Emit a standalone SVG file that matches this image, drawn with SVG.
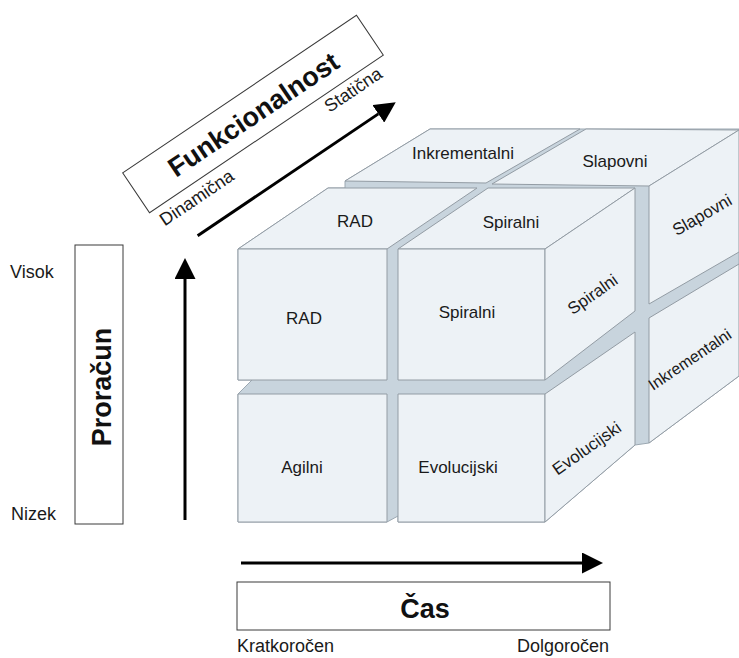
<svg xmlns="http://www.w3.org/2000/svg" width="739" height="658" viewBox="0 0 739 658">
  <defs>
    <style>
      .face{fill:#edf2f6;stroke:#939ca4;stroke-width:1;stroke-linejoin:round}
      .gap{fill:#c8d4dd;stroke:#9ca8b2;stroke-width:1;stroke-linejoin:round}
      .lbl{font-family:"Liberation Sans",Arial,sans-serif;font-size:17px;fill:#1a1a1a}
      .ax{font-family:"Liberation Sans",Arial,sans-serif;font-size:18px;fill:#1a1a1a}
      .title{font-family:"Liberation Sans",Arial,sans-serif;font-size:27px;font-weight:bold;fill:#111}
      .box{fill:#fff;stroke:#3a3a3a;stroke-width:1}
      .arrow{stroke:#000;stroke-width:3;fill:none}
    </style>
    <marker id="head" markerUnits="userSpaceOnUse" markerWidth="21" markerHeight="21" viewBox="0 0 21 21" refX="0" refY="10.5" orient="auto">
      <path d="M0,0 L21,10.5 L0,21 z" fill="#000"/>
    </marker>
  </defs>

  <rect width="739" height="658" fill="#fff"/>

  <!-- shaded gaps between the blocks: one silhouette behind all faces -->
  <g id="cube-gaps">
    <polygon class="gap" points="238,249 328,188 345,188 345,181 430,129 739,129 739,376 649,443 635,445 545,522 398,522 398,516 387,522 238,522 238,394 252,380 238,380"/>
  </g>

  <!-- back layer -->
  <g id="node-inkrementalni-top">
    <polygon class="face" points="345,181 486,183 580,129 430,129"/>
    <text class="lbl" x="463" y="159" text-anchor="middle">Inkrementalni</text>
  </g>
  <g id="node-slapovni">
    <polygon class="face" points="492,184 649,186 739,130 586,129"/>
    <polygon class="face" points="649,186 739,130 739,252 649,304"/>
    <text class="lbl" x="615" y="167" text-anchor="middle">Slapovni</text>
    <text class="lbl" x="705" y="220" text-anchor="middle" transform="rotate(-30 705 220)">Slapovni</text>
  </g>
  <g id="node-inkrementalni-side">
    <polygon class="face" points="649,318 739,264 739,376 649,443"/>
    <text class="lbl" x="653" y="391" style="font-size:16px" transform="rotate(-34 653 391)">Inkrementalni</text>
  </g>

  <!-- front layer -->
  <g id="node-rad">
    <polygon class="face" points="238,249 387,249 477,188 328,188"/>
    <polygon class="face" points="238,249 387,249 387,380 238,380"/>
    <text class="lbl" x="355" y="227" text-anchor="middle">RAD</text>
    <text class="lbl" x="304" y="324" text-anchor="middle">RAD</text>
  </g>
  <g id="node-spiralni">
    <polygon class="face" points="398,249 545,249 635,188 488,188"/>
    <polygon class="face" points="398,249 545,249 545,380 398,380"/>
    <polygon class="face" points="545,249 635,188 635,311 545,380"/>
    <text class="lbl" x="511" y="228" text-anchor="middle">Spiralni</text>
    <text class="lbl" x="467" y="318" text-anchor="middle">Spiralni</text>
    <text class="lbl" x="596" y="299" text-anchor="middle" transform="rotate(-35 596 299)">Spiralni</text>
  </g>
  <g id="node-agilni">
    <polygon class="face" points="238,394 387,394 387,522 238,522"/>
    <text class="lbl" x="302" y="473" text-anchor="middle">Agilni</text>
  </g>
  <g id="node-evolucijski">
    <polygon class="face" points="398,394 545,394 545,522 398,522"/>
    <polygon class="face" points="545,394 635,332 635,445 545,522"/>
    <text class="lbl" x="458" y="473" text-anchor="middle">Evolucijski</text>
    <text class="lbl" x="590" y="453" text-anchor="middle" transform="rotate(-35 590 453)">Evolucijski</text>
  </g>

  <!-- axis captions -->
  <g id="axis-budget">
    <rect class="box" x="75" y="245" width="48" height="279"/>
    <text class="title" x="111" y="387" text-anchor="middle" transform="rotate(-90 111 387)">Proračun</text>
    <text class="ax" x="10" y="278">Visok</text>
    <text class="ax" x="11" y="520">Nizek</text>
  </g>
  <g id="axis-time">
    <rect class="box" x="237" y="582" width="373" height="48"/>
    <text class="title" x="425" y="618" text-anchor="middle">Čas</text>
    <text class="ax" x="237" y="652">Kratkoročen</text>
    <text class="ax" x="609" y="652" text-anchor="end">Dolgoročen</text>
  </g>
  <g id="axis-function" transform="translate(253 114) rotate(-34)">
    <rect class="box" x="-141" y="-24" width="282" height="48"/>
    <text class="title" x="0" y="10" text-anchor="middle">Funkcionalnost</text>
    <text class="ax" x="-136" y="44">Dinamična</text>
    <text class="ax" x="64" y="42">Statična</text>
  </g>

  <!-- axis arrows -->
  <g id="connectors">
    <line class="arrow" x1="241" y1="563" x2="582" y2="563" marker-end="url(#head)"/>
    <line class="arrow" x1="185" y1="520" x2="185" y2="279" marker-end="url(#head)"/>
    <line class="arrow" transform="translate(253 114) rotate(-34)" x1="-114" y1="70" x2="104" y2="70" marker-end="url(#head)"/>
  </g>
</svg>
